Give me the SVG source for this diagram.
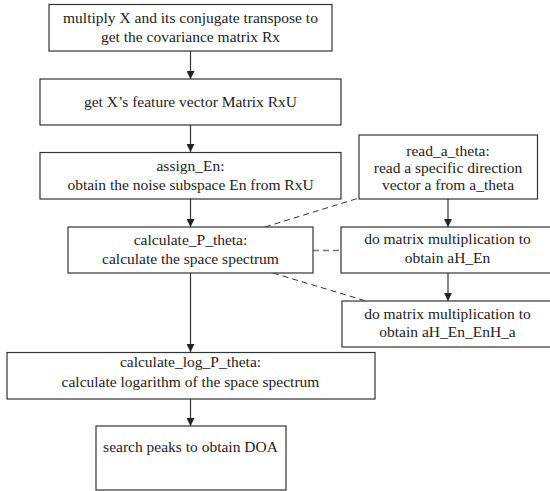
<svg xmlns="http://www.w3.org/2000/svg" width="550" height="491" viewBox="0 0 550 491">
<style>
.box{fill:#fff;stroke:#333;stroke-width:1.2}
.t{font-size:15.5px;fill:#222;text-anchor:middle}
.arr{stroke:#333;stroke-width:1.2;fill:none;marker-end:url(#ah)}
.dash{stroke:#333;stroke-width:1;fill:none;stroke-dasharray:6 4}
.dashg{stroke:#777;stroke-width:1.6;fill:none;stroke-dasharray:6 4}
</style>
<defs>
<marker id="ah" viewBox="0 0 10 10" refX="10" refY="5" markerWidth="8" markerHeight="8" markerUnits="userSpaceOnUse" orient="auto">
<path d="M0,0 L10,5 L0,10 z" fill="#222"/>
</marker>
</defs>
<rect width="550" height="491" fill="#fff"/>
<g id="connectors">
<line class="arr" x1="190.5" y1="51" x2="190.5" y2="79"/>
<line class="arr" x1="190.5" y1="125" x2="190.5" y2="152"/>
<line class="arr" x1="190.5" y1="199" x2="190.5" y2="227"/>
<line class="arr" x1="190.5" y1="273" x2="190.5" y2="352"/>
<line class="arr" x1="190.5" y1="399" x2="190.5" y2="426"/>
<line class="arr" x1="448" y1="199" x2="448" y2="227"/>
<line class="arr" x1="448" y1="273" x2="448" y2="301"/>
<line class="dash" x1="265" y1="227" x2="359" y2="198"/>
<line class="dashg" x1="313" y1="250.5" x2="341" y2="250.5"/>
<line class="dash" x1="273" y1="273" x2="366" y2="301"/>
</g>
<g font-family="'Liberation Serif', 'Times New Roman', 'DejaVu Serif', serif">
<g id="n1"><rect class="box" x="49" y="4.5" width="283" height="46.5"/>
<text class="t" x="190.5" y="22.5">multiply X and its conjugate transpose to</text>
<text class="t" x="190.5" y="42">get the covariance matrix Rx</text></g>
<g id="n2"><rect class="box" x="40" y="79" width="301" height="46"/>
<text class="t" x="190.5" y="107">get X’s feature vector Matrix RxU</text></g>
<g id="n3"><rect class="box" x="40" y="152.5" width="301" height="46.5"/>
<text class="t" x="190.5" y="170.5">assign_En:</text>
<text class="t" x="190.5" y="190">obtain the noise subspace En from RxU</text></g>
<g id="n4"><rect class="box" x="68" y="227" width="245" height="46"/>
<text class="t" x="190.5" y="244.5">calculate_P_theta:</text>
<text class="t" x="190.5" y="263.5">calculate the space spectrum</text></g>
<g id="n5"><rect class="box" x="359" y="135" width="178.5" height="64"/>
<text class="t" x="448" y="156">read_a_theta:</text>
<text class="t" x="448" y="173">read a specific direction</text>
<text class="t" x="448" y="190">vector a from a_theta</text></g>
<g id="n6"><rect class="box" x="341" y="227" width="213" height="46"/>
<text class="t" x="447.5" y="244">do matrix multiplication to</text>
<text class="t" x="447.5" y="263">obtain aH_En</text></g>
<g id="n7"><rect class="box" x="342" y="301" width="212" height="46"/>
<text class="t" x="447.5" y="318.5">do matrix multiplication to</text>
<text class="t" x="447.5" y="337">obtain aH_En_EnH_a</text></g>
<g id="n8"><rect class="box" x="7" y="352.5" width="368" height="46.5"/>
<text class="t" x="190.5" y="367">calculate_log_P_theta:</text>
<text class="t" x="190.5" y="386.5">calculate logarithm of the space spectrum</text></g>
<g id="n9"><rect class="box" x="96" y="426" width="190" height="64"/>
<text class="t" x="190.5" y="452">search peaks to obtain DOA</text></g>
</g>
</svg>
